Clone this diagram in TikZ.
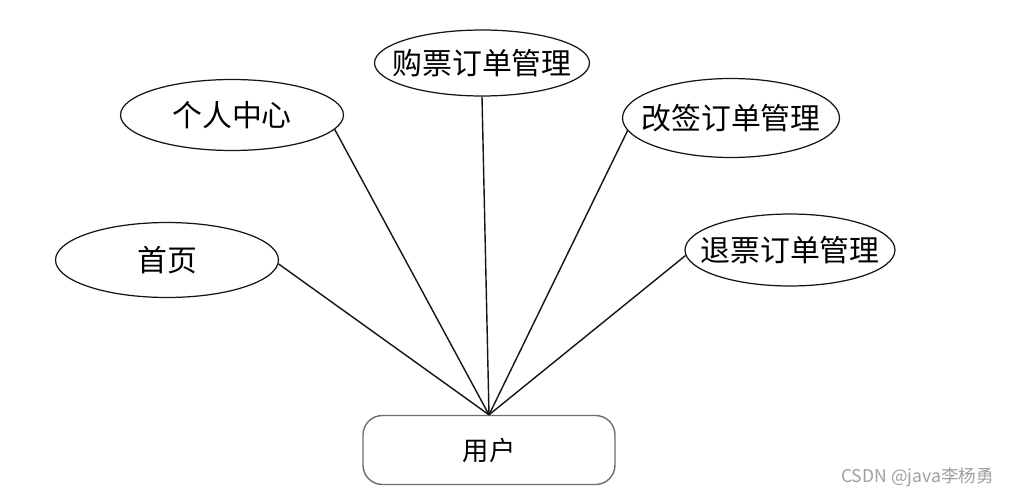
\documentclass[tikz,border=0pt]{standalone}
\usepackage{fontspec}
\setmainfont{Noto Sans CJK SC}
\usepackage{tikz}
\usetikzlibrary{shapes.geometric}
\definecolor{linedark} {RGB}{20,  20,  20}
\definecolor{boxgray}  {RGB}{110, 110, 110}
\definecolor{markgray} {RGB}{160, 160, 160}
% label that does not widen its ellipse
\newcommand{\flatlabel}[1]{\makebox[0pt]{#1}}

\begin{document}
\begin{tikzpicture}[x=0.02cm, y=-0.02cm,
    bubble/.style={draw=linedark, line width=0.7pt, ellipse, inner sep=0pt,
      font=\fontsize{17}{20}\selectfont},
    userbox/.style={draw=boxgray, line width=0.8pt, rounded corners=11pt,
      minimum width=5.04cm, minimum height=1.38cm, inner sep=0pt,
      font=\fontsize{15}{18}\selectfont},
    link/.style={draw=linedark, line width=0.8pt}]
  \useasboundingbox[fill=white] (0,0) rectangle (1011,497);
  % user box at the bottom
  \node[userbox] (user) at (489,450) {用户};
  % function ellipses
  \node[bubble, minimum width=4.46cm, minimum height=1.5cm]  (home)   at (167,260) {\flatlabel{首页}};
  \node[bubble, minimum width=4.46cm, minimum height=1.42cm] (center) at (232,115) {\flatlabel{个人中心}};
  \node[bubble, minimum width=4.3cm,  minimum height=1.32cm] (buy)    at (482,63)  {\flatlabel{购票订单管理}};
  \node[bubble, minimum width=4.34cm, minimum height=1.58cm] (change) at (731,118) {\flatlabel{改签订单管理}};
  \node[bubble, minimum width=4.2cm,  minimum height=1.44cm] (refund) at (790,250) {\flatlabel{退票订单管理}};
  % connectors
  \draw[link] (user.north) -- (home.-2);
  \draw[link] (user.north) -- (center.-8);
  \draw[link] (user.north) -- (buy.south);
  \draw[link] (user.north) -- (change.187);
  \draw[link] (user.north) -- (refund.183);
  % watermark
  \node[markgray, anchor=east, font=\fontsize{10}{12}\selectfont] (mark) at (1000,477) {CSDN @java李杨勇};
\end{tikzpicture}
\end{document}
